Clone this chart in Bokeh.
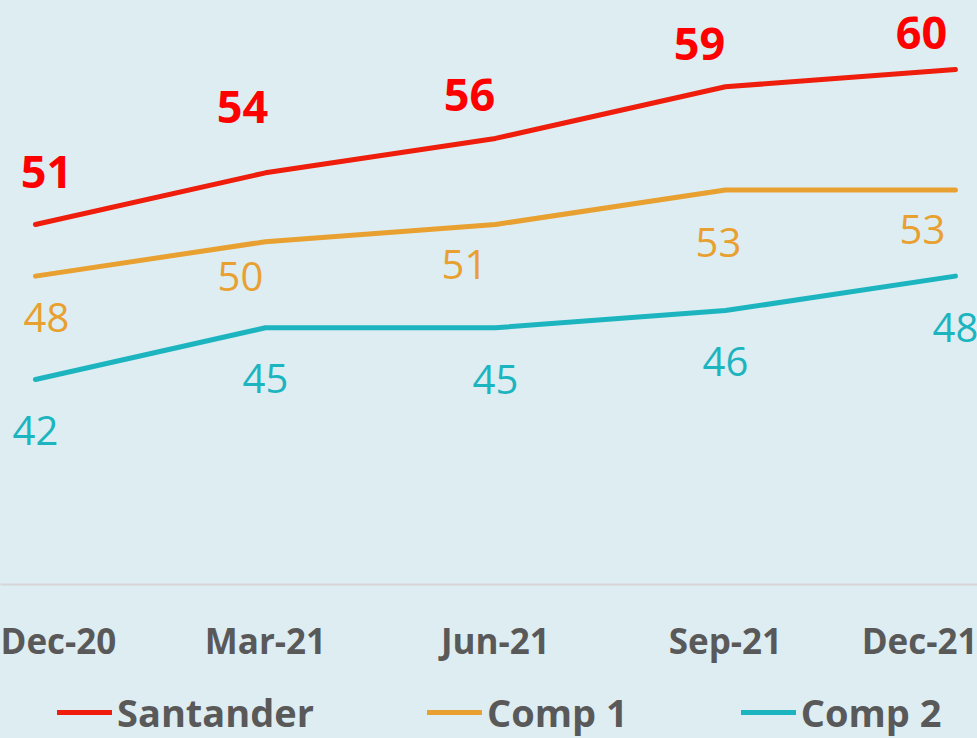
from bokeh.plotting import figure
from bokeh.layouts import column
from bokeh.models import Range1d, FixedTicker, Legend, LegendItem, ColumnDataSource
from bokeh.embed import file_html
from bokeh.resources import INLINE
from bokeh.core.properties import value

# ---- data ----
periods = ["Dec-20", "Mar-21", "Jun-21", "Sep-21", "Dec-21"]
santander = [51, 54, 56, 59, 60]
comp1 = [48, 50, 51, 53, 53]
comp2 = [42, 45, 45, 46, 48]
series_names = ["Santander", "Comp 1", "Comp 2"]

# ---- label placement (screen px offsets from the point) ----
san_dx = [11, -23, -26, -26, -34]
san_dy = [-52, -66, -43, -43, -37]
c1_dx = [11, -25, -31, -7, -33]
c1_dy = [41, 35, 40, 52, 39]
c2_dx = [0, 0, 0, 0, 0]
c2_dy = [51, 51, 52, 51, 51]

BG = "#deedf2"
RED_LINE = "#ee1d0c"
RED_TXT = "#ff0000"
ORANGE = "#e8a030"
TEAL = "#1cb5bf"
GREY = "#595959"
FONT = "Open Sans"

xs = list(range(len(periods)))

p = figure(width=977, height=680,
           x_range=Range1d(-0.152, 4.096), y_range=Range1d(30.09, 64.01),
           toolbar_location=None, output_backend="svg",
           background_fill_color=BG, border_fill_color=BG,
           outline_line_color=None, min_border=0, min_border_bottom=96)

p.xgrid.visible = False
p.ygrid.visible = False
p.yaxis.visible = False

ax = p.xaxis[0]
ax.ticker = FixedTicker(ticks=xs)
ax.major_label_overrides = {i: lab for i, lab in enumerate(periods)}
ax.axis_line_color = "#d6d6d6"
ax.axis_line_width = 2
ax.major_tick_line_color = None
ax.minor_tick_line_color = None
ax.major_tick_out = 0
ax.major_tick_in = 0
ax.major_label_standoff = 32
ax.major_label_text_font = FONT
ax.major_label_text_font_style = "bold"
ax.major_label_text_font_size = "35px"
ax.major_label_text_color = GREY

series = [
    (santander, RED_LINE, RED_TXT, "bold", "45px", san_dx, san_dy),
    (comp1, ORANGE, ORANGE, "normal", "40px", c1_dx, c1_dy),
    (comp2, TEAL, TEAL, "normal", "40px", c2_dx, c2_dy),
]

for vals, lc, tc, fs, size, dx, dy in series:
    src = ColumnDataSource(dict(x=xs, y=vals, t=[str(v) for v in vals], dx=dx, dy=dy))
    p.line("x", "y", source=src, line_color=lc, line_width=5, line_cap="round", line_join="round")
    p.text("x", "y", text="t", source=src, x_offset="dx", y_offset="dy",
           text_align="center", text_baseline="middle",
           text_font=value(FONT), text_font_style=fs, text_font_size=size,
           text_color=tc)

# ---- legend strip (separate figure below the chart) ----
# the series are drawn here too, but outside this strip's visible range,
# so only their legend glyphs appear
lg = figure(width=977, height=58, x_range=Range1d(0, 1), y_range=Range1d(0, 1),
            toolbar_location=None, output_backend="svg",
            background_fill_color=BG, border_fill_color=BG,
            outline_line_color=None, min_border=0)
lg.axis.visible = False
lg.grid.visible = False

items = []
for name, (vals, lc, *_rest) in zip(series_names, series):
    r = lg.line(x=xs, y=vals, line_color=lc, line_width=5, line_cap="round")
    items.append(LegendItem(label=name, renderers=[r]))

legend = Legend(items=items, orientation="horizontal", location=(57, 0),
                glyph_width=55, glyph_height=20, label_standoff=5, spacing=113,
                padding=0, margin=0, border_line_color=None,
                background_fill_alpha=0,
                label_text_font=FONT, label_text_font_style="bold",
                label_text_font_size="38px", label_text_color=GREY,
                label_height=42)
lg.add_layout(legend)

layout = column(p, lg, spacing=0, styles={"background-color": BG})

open("out.html", "w").write(file_html(layout, INLINE))
